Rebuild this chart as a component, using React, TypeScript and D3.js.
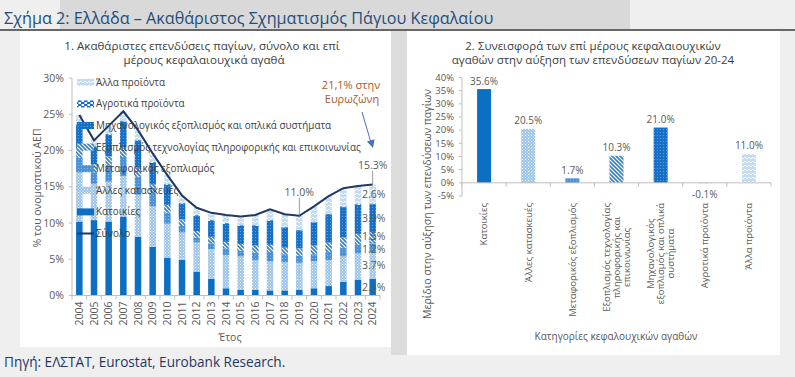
import React, { useEffect, useRef } from "react";
import * as d3 from "d3";

const W = 795;
const H = 377;
const FONT = "'Open Sans', 'Noto Sans', sans-serif";

// ---------- Data: chart 1 (% of nominal GDP) ----------
const years = ["2004","2005","2006","2007","2008","2009","2010","2011","2012","2013","2014","2015","2016","2017","2018","2019","2020","2021","2022","2023","2024"];
const katoikies =        [10.2,10.4,10.2,10.9,8.1,6.7,5.2,4.9,3.3,2.3,1.0,0.8,0.8,0.7,0.7,0.8,1.0,1.3,1.9,2.2,2.3];
const allesKataskeves =  [6.8,5.0,5.5,5.6,5.8,5.6,4.7,3.8,4.0,4.1,4.6,4.6,4.1,4.0,3.9,3.7,3.7,3.6,3.5,3.6,3.7];
const metaforikos =      [2.0,1.6,2.3,2.6,2.5,1.8,1.5,0.9,0.7,0.8,0.9,0.8,1.0,1.3,1.1,1.0,1.0,1.1,1.2,1.2,1.2];
const ictExoplismos =    [1.3,1.1,1.2,1.3,1.3,1.2,1.1,0.9,0.9,0.9,0.9,0.9,1.0,1.0,0.9,1.0,1.2,1.3,1.4,1.5,1.5];
const michanologikos =   [3.3,2.4,3.0,3.6,3.7,3.0,2.8,2.2,2.1,2.2,2.5,2.5,2.7,3.3,2.8,2.5,3.2,3.9,4.2,4.0,3.9];
const agrotika =         [0.1,0.1,0.1,0.1,0.1,0.1,0.1,0.1,0.1,0.1,0.1,0.1,0.1,0.1,0.1,0.1,0.1,0.1,0.1,0.1,0.1];
const allaProionta =     [1.2,0.8,1.1,1.3,1.3,1.2,1.2,1.0,1.0,1.0,1.1,1.2,1.4,1.5,1.7,1.9,2.1,2.4,2.5,2.5,2.6];
const synolo =           [24.9,21.4,23.4,25.4,22.8,19.6,16.6,13.8,12.1,11.4,11.1,10.9,11.1,11.9,11.2,11.0,12.3,13.7,14.8,15.1,15.3];
const leftTicks = [0,5,10,15,20,25,30];

const seriesKeys = ["kat","alkat","met","ict","mech","agro","alla"];
const seriesNames = [
  "Κατοικίες",
  "Άλλες κατασκευές",
  "Μεταφορικός εξοπλισμός",
  "Εξοπλισμός τεχνολογίας πληροφορικής και επικοινωνίας",
  "Μηχανολογικός εξοπλισμός και οπλικά συστήματα",
  "Αγροτικά προϊόντα",
  "Άλλα προϊόντα",
];
const totalName = "Σύνολο";
const labelledSeries2024 = ["kat","alkat","met","ict","mech","alla"];

// ---------- Data: chart 2 (contribution to growth 20-24) ----------
const contribCategories = [
  ["Κατοικίες"],
  ["Άλλες κατασκευές"],
  ["Μεταφορικός εξοπλισμός"],
  ["Εξοπλισμός τεχνολογίας", "πληροφορικής και", "επικοινωνίας"],
  ["Μηχανολογικός", "εξοπλισμός και οπλικά", "συστήματα"],
  ["Αγροτικά προϊόντα"],
  ["Άλλα προϊόντα"],
];
const contribValues = [35.6, 20.5, 1.7, 10.3, 21.0, -0.1, 11.0];
const rightTicks = [-5,0,5,10,15,20,25,30,35,40];

const fills: Record<string,string> = {
  kat: "#0b6fc3",
  alkat: "url(#pAlKat)",
  met: "url(#pMet)",
  ict: "url(#pIct)",
  mech: "url(#pMech)",
  agro: "url(#pAgro)",
  alla: "url(#pAlla)",
};

const TXT = "#404040";
const AX = "#595959";

export default function App() {
  const ref = useRef<SVGSVGElement>(null);

  useEffect(() => {
    const svg = d3.select(ref.current);
    svg.selectAll("*").remove();
    svg.style("font-family", FONT);

    // ---------- patterns ----------
    const defs = svg.append("defs");
    const pat = (id: string, w: number, h: number) =>
      defs.append("pattern").attr("id", id).attr("width", w).attr("height", h).attr("patternUnits", "userSpaceOnUse");

    const pAlKat = pat("pAlKat", 3, 3);
    pAlKat.append("rect").attr("width", 3).attr("height", 3).attr("fill", "#9cc4ea");
    pAlKat.append("rect").attr("width", 1).attr("height", 1).attr("fill", "#ffffff");
    pAlKat.append("rect").attr("x", 1.5).attr("y", 1.5).attr("width", 1).attr("height", 1).attr("fill", "#e0edf9");

    const pMet = pat("pMet", 3, 3);
    pMet.append("rect").attr("width", 3).attr("height", 3).attr("fill", "#4a92d8");
    pMet.append("rect").attr("width", 1).attr("height", 1).attr("fill", "#86b8e8");

    const pIct = pat("pIct", 4, 4);
    pIct.append("rect").attr("width", 4).attr("height", 4).attr("fill", "#ffffff");
    pIct.append("path").attr("d", "M-1,-1 L5,5 M3,-1 L5,1 M-1,3 L1,5").attr("stroke", "#2e7fcf").attr("stroke-width", 1.6);

    const pMech = pat("pMech", 3, 3);
    pMech.append("rect").attr("width", 3).attr("height", 3).attr("fill", "#1670c6");
    pMech.append("rect").attr("width", 1).attr("height", 1).attr("fill", "#5a9fe0");

    const pAgro = pat("pAgro", 6, 4);
    pAgro.append("rect").attr("width", 6).attr("height", 4).attr("fill", "#ffffff");
    pAgro.append("rect").attr("width", 3.5).attr("height", 2).attr("fill", "#1670c6");
    pAgro.append("rect").attr("x", 3).attr("y", 2).attr("width", 3.5).attr("height", 2).attr("fill", "#1670c6");
    pAgro.append("rect").attr("x", -3).attr("y", 2).attr("width", 3.5).attr("height", 2).attr("fill", "#1670c6");

    const pAlla = pat("pAlla", 4, 4);
    pAlla.append("rect").attr("width", 4).attr("height", 4).attr("fill", "#c4dcf3");
    pAlla.append("path").attr("d", "M0,2 L1,1 L3,3 L4,2").attr("stroke", "#ffffff").attr("stroke-width", 0.9).attr("fill", "none");

    // ---------- background ----------
    svg.append("rect").attr("width", W).attr("height", H).attr("fill", "#efefef");
    svg.append("rect").attr("x", 60).attr("y", 0).attr("width", 570).attr("height", 29).attr("fill", "#d9d9d9");
    svg.append("line").attr("x1", 0).attr("x2", W).attr("y1", 30).attr("y2", 30).attr("stroke", "#3a3a3a").attr("stroke-width", 1.5);
    svg.append("rect").attr("x", 391).attr("y", 31).attr("width", 16).attr("height", 324).attr("fill", "#dcdcdc");
    svg.append("rect").attr("x", 20).attr("y", 31).attr("width", 371).attr("height", 316).attr("fill", "#ffffff");
    svg.append("rect").attr("x", 407).attr("y", 31).attr("width", 373).attr("height", 324).attr("fill", "#ffffff");

    svg.append("text").attr("x", 4).attr("y", 24).attr("font-size", 16.2).attr("fill", "#1f4e79")
      .text("Σχήμα 2: Ελλάδα – Ακαθάριστος Σχηματισμός Πάγιου Κεφαλαίου");
    svg.append("text").attr("x", 4).attr("y", 367).attr("font-size", 13.6).attr("fill", "#1f3864")
      .text("Πηγή: ΕΛΣΤΑΤ, Eurostat, Eurobank Research.");

    // ================= LEFT CHART =================
    const L = svg.append("g");
    L.append("text").attr("x", 202).attr("y", 50).attr("text-anchor", "middle").attr("font-size", 11.6).attr("fill", TXT)
      .text("1. Ακαθάριστες επενδύσεις παγίων, σύνολο και επί");
    L.append("text").attr("x", 204).attr("y", 64).attr("text-anchor", "middle").attr("font-size", 11.6).attr("fill", TXT)
      .text("μέρους κεφαλαιουχικά αγαθά");

    const yL = d3.scaleLinear().domain([0, 30]).range([295.5, 78]);
    const xL = d3.scaleBand<string>().domain(years).range([72, 380]).padding(0);
    const bwL = 6.5;
    const cx = (y: string) => (xL(y) as number) + xL.bandwidth() / 2;

    const rows = years.map((y, i) => ({
      year: y,
      kat: katoikies[i], alkat: allesKataskeves[i], met: metaforikos[i], ict: ictExoplismos[i],
      mech: michanologikos[i], agro: agrotika[i], alla: allaProionta[i],
    }));
    const stacked = d3.stack<any>().keys(seriesKeys)(rows);

    // axes
    L.append("line").attr("x1", 72).attr("x2", 72).attr("y1", yL(30)).attr("y2", yL(0)).attr("stroke", "#bfbfbf");
    leftTicks.forEach((t) => {
      L.append("line").attr("x1", 69).attr("x2", 72).attr("y1", yL(t)).attr("y2", yL(t)).attr("stroke", "#bfbfbf");
      L.append("text").attr("x", 64).attr("y", yL(t)).attr("dy", "0.35em").attr("text-anchor", "end")
        .attr("font-size", 10.5).attr("fill", AX).text(`${t}%`);
    });
    L.append("text").attr("transform", `translate(37,188) rotate(-90)`).attr("text-anchor", "middle")
      .attr("dy", "0.35em").attr("font-size", 10.5).attr("fill", AX).text("% του ονομαστικού ΑΕΠ");

    // bars
    stacked.forEach((layer) => {
      L.append("g").selectAll("rect").data(layer).join("rect")
        .attr("x", (d: any) => cx(d.data.year) - bwL / 2)
        .attr("width", bwL)
        .attr("y", (d: any) => yL(d[1]))
        .attr("height", (d: any) => Math.max(0, yL(d[0]) - yL(d[1])))
        .attr("fill", fills[layer.key]);
    });

    L.append("line").attr("x1", 72).attr("x2", 380).attr("y1", yL(0)).attr("y2", yL(0)).attr("stroke", "#bfbfbf");
    years.forEach((y) => {
      const bx = xL(y) as number;
      L.append("line").attr("x1", bx).attr("x2", bx).attr("y1", yL(0)).attr("y2", yL(0) + 4).attr("stroke", "#bfbfbf");
      L.append("text").attr("transform", `translate(${cx(y)},${yL(0) + 6}) rotate(-90)`)
        .attr("text-anchor", "end").attr("dy", "0.35em").attr("font-size", 10.5).attr("fill", AX).text(y);
    });
    L.append("line").attr("x1", 380).attr("x2", 380).attr("y1", yL(0)).attr("y2", yL(0) + 4).attr("stroke", "#bfbfbf");
    L.append("text").attr("x", 230).attr("y", 341).attr("text-anchor", "middle").attr("font-size", 10.5)
      .attr("fill", AX).text("Έτος");

    // total line
    const line = d3.line<number>().x((_, i) => cx(years[i])).y((d) => yL(d));
    L.append("path").attr("d", line(synolo) as string).attr("fill", "none").attr("stroke", "#1f3864").attr("stroke-width", 2);

    // labels on 2024 bar
    const last = years.length - 1;
    stacked.forEach((layer) => {
      if (!labelledSeries2024.includes(layer.key)) return;
      const d: any = layer[last];
      const v = d[1] - d[0];
      let yy = yL((d[0] + d[1]) / 2);
      if (layer.key === "met") yy += 2;
      if (layer.key === "ict") yy -= 2;
      L.append("text").attr("x", cx(years[last]) + 1).attr("y", yy).attr("dy", "0.35em")
        .attr("text-anchor", "middle").attr("font-size", 10.5).attr("fill", AX).text(`${v.toFixed(1)}%`);
    });
    // total label 2024
    const t24 = synolo[last];
    L.append("line").attr("x1", cx(years[last])).attr("x2", cx(years[last])).attr("y1", 171).attr("y2", yL(t24)).attr("stroke", "#7f7f7f").attr("stroke-width", 0.8);
    L.append("text").attr("x", cx(years[last])).attr("y", 165).attr("dy", "0.35em").attr("text-anchor", "middle")
      .attr("font-size", 10.5).attr("fill", AX).text(`${t24.toFixed(1)}%`);
    // 2019 label
    const i19 = years.indexOf("2019");
    L.append("line").attr("x1", cx("2019")).attr("x2", cx("2019")).attr("y1", 198).attr("y2", yL(synolo[i19])).attr("stroke", "#7f7f7f").attr("stroke-width", 0.8);
    L.append("text").attr("x", cx("2019")).attr("y", 192).attr("dy", "0.35em").attr("text-anchor", "middle")
      .attr("font-size", 10.5).attr("fill", AX).text(`${synolo[i19].toFixed(1)}%`);

    // annotation
    L.append("text").attr("x", 351).attr("y", 89).attr("text-anchor", "middle").attr("font-size", 11).attr("fill", "#a85a2a").text("21,1% στην");
    L.append("text").attr("x", 352).attr("y", 103).attr("text-anchor", "middle").attr("font-size", 11).attr("fill", "#a85a2a").text("Ευρωζώνη");
    L.append("line").attr("x1", 362).attr("y1", 112).attr("x2", 370.5).attr("y2", 141).attr("stroke", "#4472c4").attr("stroke-width", 1);
    L.append("path").attr("d", "M373,148 L374.6,139.2 L366.9,141.4 Z").attr("fill", "#4472c4");

    // legend
    const legendItems = [
      { key: "alla", name: seriesNames[6] },
      { key: "agro", name: seriesNames[5] },
      { key: "mech", name: seriesNames[4] },
      { key: "ict", name: seriesNames[3] },
      { key: "met", name: seriesNames[2] },
      { key: "alkat", name: seriesNames[1] },
      { key: "kat", name: seriesNames[0] },
      { key: "total", name: totalName },
    ];
    legendItems.forEach((it, i) => {
      const ly = 82.3 + i * 21.6;
      if (it.key === "total") {
        L.append("line").attr("x1", 77).attr("x2", 94).attr("y1", ly).attr("y2", ly).attr("stroke", "#1f3864").attr("stroke-width", 2);
      } else {
        L.append("rect").attr("x", 77).attr("y", ly - 3.5).attr("width", 17).attr("height", 7).attr("fill", fills[it.key]);
      }
      L.append("text").attr("x", 96).attr("y", ly).attr("dy", "0.35em").attr("font-size", 9.9).attr("fill", TXT).text(it.name);
    });

    // ================= RIGHT CHART =================
    const R = svg.append("g");
    R.append("text").attr("x", 593).attr("y", 50).attr("text-anchor", "middle").attr("font-size", 11.5).attr("fill", TXT)
      .text("2. Συνεισφορά των επί μέρους κεφαλαιουχικών");
    R.append("text").attr("x", 593).attr("y", 64).attr("text-anchor", "middle").attr("font-size", 11.5).attr("fill", TXT)
      .text("αγαθών στην αύξηση των επενδύσεων παγίων 20-24");

    const yR = d3.scaleLinear().domain([-5, 40]).range([196, 77.5]);
    const idx = contribValues.map((_, i) => String(i));
    const xR = d3.scaleBand<string>().domain(idx).range([462, 771]).padding(0);
    const bwR = 14;
    const cxR = (i: number) => (xR(String(i)) as number) + xR.bandwidth() / 2;

    R.append("line").attr("x1", 462).attr("x2", 462).attr("y1", yR(40)).attr("y2", yR(-5)).attr("stroke", "#bfbfbf");
    rightTicks.forEach((t) => {
      R.append("line").attr("x1", 459).attr("x2", 462).attr("y1", yR(t)).attr("y2", yR(t)).attr("stroke", "#bfbfbf");
      R.append("text").attr("x", 454).attr("y", yR(t)).attr("dy", "0.35em").attr("text-anchor", "end")
        .attr("font-size", 9.5).attr("fill", AX).text(`${t}%`);
    });
    R.append("text").attr("transform", `translate(427,204) rotate(-90)`).attr("text-anchor", "middle")
      .attr("dy", "0.35em").attr("font-size", 10.5).attr("fill", AX).text("Μερίδιο στην αύξηση των επενδύσεων παγίων");

    const catFills = ["kat", "alkat", "met", "ict", "mech", "agro", "alla"].map((k) => fills[k]);
    R.append("g").selectAll("rect").data(contribValues).join("rect")
      .attr("x", (_, i) => cxR(i) - bwR / 2)
      .attr("width", bwR)
      .attr("y", (d) => yR(Math.max(0, d)))
      .attr("height", (d) => Math.abs(yR(d) - yR(0)))
      .attr("fill", (_, i) => catFills[i]);

    R.append("line").attr("x1", 462).attr("x2", 771).attr("y1", yR(0)).attr("y2", yR(0)).attr("stroke", "#bfbfbf");
    idx.forEach((k) => {
      const bx = xR(k) as number;
      R.append("line").attr("x1", bx).attr("x2", bx).attr("y1", yR(0)).attr("y2", yR(0) + 4).attr("stroke", "#bfbfbf");
    });
    R.append("line").attr("x1", 771).attr("x2", 771).attr("y1", yR(0)).attr("y2", yR(0) + 4).attr("stroke", "#bfbfbf");

    contribValues.forEach((v, i) => {
      const yy = v >= 0 ? yR(v) - 8 : yR(v) + 11;
      R.append("text").attr("x", cxR(i)).attr("y", yy).attr("dy", "0.35em").attr("text-anchor", "middle")
        .attr("font-size", 10).attr("fill", AX).text(`${v.toFixed(1)}%`);
    });

    // category labels (rotated)
    contribCategories.forEach((lines, i) => {
      const g = R.append("g").attr("transform", `translate(${cxR(i)},203) rotate(-90)`);
      const texts = lines.map((ln, j) =>
        g.append("text").attr("x", 0).attr("y", (j - (lines.length - 1) / 2) * 10).attr("dy", "0.35em")
          .attr("font-size", 9.5).attr("fill", AX).text(ln)
      );
      if (lines.length === 1) {
        texts[0].attr("text-anchor", "end");
      } else {
        let maxLen = 0;
        texts.forEach((t) => {
          const n = (t.node() as SVGTextElement).getComputedTextLength();
          if (n > maxLen) maxLen = n;
        });
        texts.forEach((t) => t.attr("text-anchor", "middle").attr("x", -maxLen / 2));
      }
    });
    R.append("text").attr("x", 616).attr("y", 340).attr("text-anchor", "middle").attr("font-size", 10)
      .attr("fill", AX).text("Κατηγορίες κεφαλουχικών αγαθών");
  }, []);

  return <svg ref={ref} width={W} height={H} style={{ position: "absolute", left: 0, top: 0, display: "block" }} />;
}
